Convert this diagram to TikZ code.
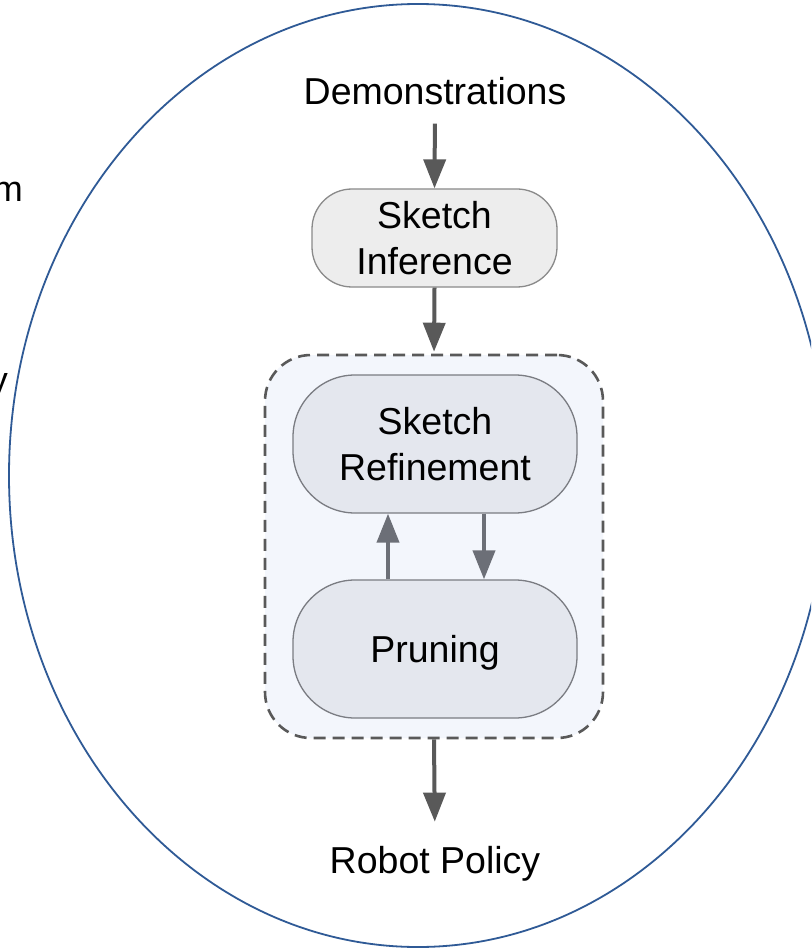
\documentclass[tikz,border=0pt]{standalone}
\usepackage{fontspec}
\setmainfont{Liberation Sans}
\usetikzlibrary{arrows.meta,positioning}
\definecolor{ellcol}{HTML}{2F5A96}
\definecolor{arrdark}{HTML}{595959}
\definecolor{arrin}{HTML}{6C6F77}
\definecolor{sifill}{HTML}{EDEDED}
\definecolor{siedge}{HTML}{8A8A8A}
\definecolor{boxfill}{HTML}{E4E7EE}
\definecolor{boxedge}{HTML}{7A7C82}
\definecolor{contfill}{HTML}{F3F6FC}
\definecolor{contedge}{HTML}{595959}
\tikzset{
  lbl/.style={font=\fontsize{37.5}{46}\selectfont, text=black, inner sep=0pt},
  sibox/.style={draw=siedge, line width=1.3pt, fill=sifill, rounded corners=40pt,
    minimum width=245pt, minimum height=98pt, align=center, inner sep=0pt,
    font=\fontsize{37.5}{46}\selectfont},
  stagebox/.style={draw=boxedge, line width=1.3pt, fill=boxfill, rounded corners=62pt,
    minimum width=284pt, minimum height=138pt, align=center, inner sep=0pt,
    font=\fontsize{37.5}{46}\selectfont},
  contbox/.style={draw=contedge, line width=2.6pt, fill=contfill, rounded corners=46pt,
    dash pattern=on 12pt off 7pt, minimum width=338pt, minimum height=383pt, inner sep=0pt},
  arrout/.style={draw=arrdark, line width=4pt, -{Triangle[width=22pt,length=29pt]}, color=arrdark},
  arrinner/.style={draw=arrin, line width=4pt, -{Triangle[width=22pt,length=29pt]}, color=arrin},
  cut/.style={font=\fontsize{36}{40}\selectfont, text=black, inner sep=0pt}
}
\begin{document}
\begin{tikzpicture}[x=1pt,y=-1pt]
\useasboundingbox (0,0) rectangle (811,949);
\clip (0,0) rectangle (811,949);
\fill[white] (0,0) rectangle (811,949);
% cut-off text at left
\node[cut, anchor=base east] (cm) at (23,202) {m};
\node[cut, anchor=base east] (cy) at (8,392) {y};
% big ellipse
\draw[ellcol, line width=1.8pt] (418,475.5) ellipse [x radius=409pt, y radius=471.5pt];
% nodes
\node[lbl, anchor=base] (dem) at (435,105) {Demonstrations};
\node[sibox] (si) at (434.5,238) {Sketch\\Inference};
\node[contbox] (cont) at (434,546.5) {};
\node[stagebox] (sr) at (435,444) {Sketch\\Refinement};
\node[stagebox, text depth=0pt] (pr) at (435,649) {Pruning};
\node[lbl, anchor=base] (rp) at (435,873) {Robot Policy};
% connectors
\draw[arrout, shorten <=18pt] (dem.south) -- (si.north);
\draw[arrout, shorten >=2pt] (si.south) -- (cont.north);
\draw[arrinner] ([xshift=-47pt]pr.north) -- ([xshift=-47pt]sr.south);
\draw[arrinner] ([xshift=49pt]sr.south) -- ([xshift=49pt]pr.north);
\draw[arrout, shorten >=24pt] (cont.south) -- (rp.north);
\end{tikzpicture}
\end{document}
